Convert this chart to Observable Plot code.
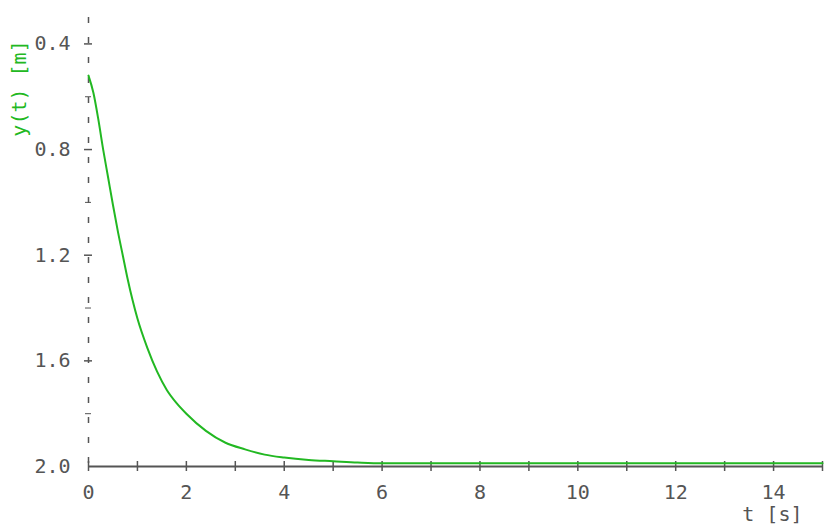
<!DOCTYPE html>
<html>
<head>
<meta charset="utf-8">
<script src="https://cdn.jsdelivr.net/npm/d3@7"></script>
<script src="https://cdn.jsdelivr.net/npm/@observablehq/plot@0.6"></script>
<style>
  html, body { margin: 0; padding: 0; background: #ffffff; }
  #chart svg { display: block; }
</style>
</head>
<body>
<div id="chart"></div>
<script>
// Data
const tValues = [0, 0.1, 0.2, 0.3, 0.4, 0.5, 0.6, 0.7, 0.8, 0.9, 1.0, 1.2, 1.4, 1.6, 1.8, 2.0, 2.4, 2.8, 3.2, 3.6, 4.0, 4.5, 5.0, 5.5, 6, 8, 10, 12, 15];
const yValues = [0.52, 0.585, 0.685, 0.80, 0.905, 1.01, 1.11, 1.20, 1.29, 1.37, 1.44, 1.55, 1.64, 1.71, 1.76, 1.80, 1.865, 1.91, 1.935, 1.955, 1.966, 1.975, 1.98, 1.985, 1.988, 1.988, 1.988, 1.988, 1.988];
const xTickLabels = [0, 2, 4, 6, 8, 10, 12, 14];
const xMinorTicks = [0, 1, 2, 3, 4, 5, 6, 7, 8, 9, 10, 11, 12, 13, 14, 15];
const yTickLabels = [0.4, 0.8, 1.2, 1.6, 2.0];
const yMinorTicks = [0.6, 1.0, 1.4, 1.8];
const xLabel = "t [s]";
const yLabel = "y(t) [m]";

const data = tValues.map((t, i) => ({t, y: yValues[i]}));
const gray = "#555555";
const green = "#22b822";
const font = "DejaVu Sans Mono";
const fs = 20;

const chart = Plot.plot({
  width: 825,
  height: 526,
  marginLeft: 88,
  marginRight: 3,
  marginTop: 17,
  marginBottom: 60,
  style: {background: "#ffffff", fontFamily: font},
  x: {domain: [0, 15], axis: null},
  y: {domain: [0.3, 2.0], reverse: true, axis: null},
  marks: [
    Plot.ruleX([0], {stroke: gray, strokeWidth: 1.5, strokeDasharray: "6,14"}),
    Plot.ruleY([2], {stroke: gray, strokeWidth: 2}),
    Plot.ruleX(xMinorTicks, {x: d => d, y1: 2, y2: 2, insetTop: -5, insetBottom: -5, stroke: gray, strokeWidth: 1.5}),
    Plot.text(xTickLabels, {x: d => d, y: 2, dy: 26, text: d => String(d), fill: gray, fontSize: fs, fontFamily: font}),
    Plot.ruleY(yTickLabels.slice(0, 4), {y: d => d, x1: 0, x2: 0, insetLeft: -4, insetRight: -4, stroke: gray, strokeWidth: 1.5}),
    Plot.ruleY(yMinorTicks, {y: d => d, x1: 0, x2: 0, insetLeft: -3, insetRight: -3, stroke: gray, strokeWidth: 1}),
    Plot.text(yTickLabels, {x: 0, y: d => d, dx: -18, textAnchor: "end", text: d => d.toFixed(1), fill: gray, fontSize: fs, fontFamily: font}),
    Plot.line(data, {x: "t", y: "y", stroke: green, strokeWidth: 2, curve: "monotone-x"}),
    Plot.text([xLabel], {frameAnchor: "bottom-right", dx: -20, dy: 40, textAnchor: "end", lineAnchor: "top", text: d => d, fill: gray, fontSize: fs, fontFamily: font}),
    Plot.text([yLabel], {frameAnchor: "top-left", dx: -77, dy: 71, rotate: -90, textAnchor: "middle", text: d => d, fill: green, fontSize: fs, fontFamily: font})
  ]
});
document.getElementById("chart").appendChild(chart);
</script>
</body>
</html>
